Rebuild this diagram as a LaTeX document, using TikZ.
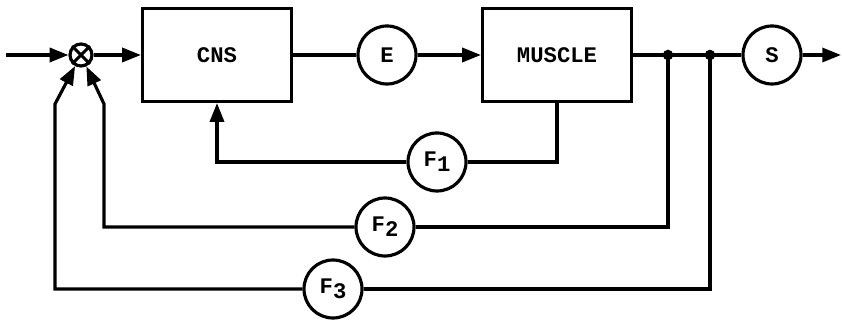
\documentclass[tikz,border=0pt]{standalone}
\usepackage{fontspec}
\setmonofont{Liberation Mono}
\usetikzlibrary{arrows.meta}

\tikzset{
  wire/.style={line width=2.7pt},
  arr/.style={wire,-{Triangle[length=16pt,width=12pt]}},
  blk/.style={draw,wire,minimum width=4.47cm,minimum height=2.79cm,
    font=\ttfamily\bfseries\fontsize{19}{21}\selectfont},
  gain/.style={draw,wire,circle,minimum size=1.74cm,inner sep=0pt,
    font=\ttfamily\bfseries\fontsize{19}{21}\selectfont},
  summer/.style={draw,wire,circle,minimum size=0.66cm,inner sep=0pt}
}

\begin{document}
\begin{tikzpicture}[x=0.03cm,y=-0.03cm]
\useasboundingbox (0,0) rectangle (842,321);
\node[summer] (sum) at (81,55) {};
\draw[wire] (sum.north east) -- (sum.south west) (sum.north west) -- (sum.south east);
\node[blk] (cns) at (217,55) {CNS};
\node[gain] (e) at (387,55) {E};
\node[blk] (muscle) at (557,55) {MUSCLE};
\node[gain] (s) at (772,55) {S};
\node[gain] (f1) at (437,162) {F\raisebox{-0.45ex}{1}};
\node[gain] (f2) at (385,227) {F\raisebox{-0.45ex}{2}};
\node[gain] (f3) at (333,289) {F\raisebox{-0.45ex}{3}};
\coordinate (in) at (6,55);
\coordinate (out) at (841,55);
\coordinate (j1) at (668,55);
\coordinate (j2) at (710,55);
\coordinate (k2) at (104,104);
\coordinate (k3) at (55,104);
\draw[arr] (in) -- (sum);
\draw[arr] (sum) -- (cns);
\draw[wire] (cns) -- (e);
\draw[arr] (e) -- (muscle);
\draw[wire] (muscle) -- (s);
\draw[arr] (s) -- (out);
\draw[wire] (muscle.south) |- (f1);
\draw[arr] (f1) -| (cns.south);
\draw[wire] (j1) |- (f2);
\draw[arr] (f2) -| (k2) -- (sum);
\draw[wire] (j2) |- (f3);
\draw[arr] (f3) -| (k3) -- (sum);
\fill (j1) circle (4.5pt) (j2) circle (4.5pt);
\end{tikzpicture}
\end{document}
